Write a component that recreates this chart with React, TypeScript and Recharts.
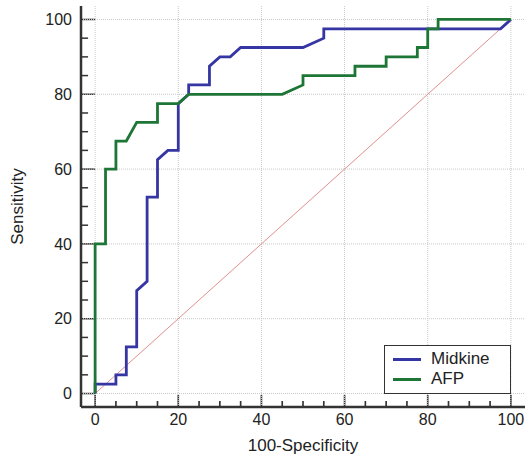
import React from "react";
import {
  LineChart,
  Line,
  XAxis,
  YAxis,
  ReferenceLine,
  ReferenceArea,
  Legend,
} from "recharts";

// ROC points (100-Specificity, Sensitivity)
const midkineX = [0, 0, 5, 5, 7.5, 7.5, 10, 10, 12.5, 12.5, 15, 15, 17.5, 20, 20, 22.5, 22.5, 27.5, 27.5, 30, 32.5, 35, 50, 55, 55, 97.5, 100];
const midkineY = [0, 2.5, 2.5, 5, 5, 12.5, 12.5, 27.5, 30, 52.5, 52.5, 62.5, 65, 65, 77.5, 80, 82.5, 82.5, 87.5, 90, 90, 92.5, 92.5, 95, 97.5, 97.5, 100];

const afpX = [0, 0, 2.5, 2.5, 5, 5, 7.5, 10, 15, 15, 20, 22.5, 45, 50, 50, 62.5, 62.5, 70, 70, 77.5, 77.5, 80, 80, 82.5, 82.5, 100];
const afpY = [0, 40, 40, 60, 60, 67.5, 67.5, 72.5, 72.5, 77.5, 77.5, 80, 80, 82.5, 85, 85, 87.5, 87.5, 90, 90, 92.5, 92.5, 97.5, 97.5, 100, 100];

const majorTicks = [0, 20, 40, 60, 80, 100];
const minorTicks = [5, 10, 15, 25, 30, 35, 45, 50, 55, 65, 70, 75, 85, 90, 95];

const midkineData = midkineX.map((x, i) => ({ x, y: midkineY[i] }));
const afpData = afpX.map((x, i) => ({ x, y: afpY[i] }));

const BLUE = "#3535a3";
const GREEN = "#1e7636";
const AXIS = "#333";
const FONT = "'Liberation Sans', Arial, sans-serif";
const X_DOMAIN = [-3.4, 103.4];
const Y_DOMAIN = [-3.6, 103.6];

// inward tick lengths and half-thickness, in data units
const X_MAJOR = 3.2;
const X_MINOR = 1.6;
const Y_MAJOR = 3.4;
const Y_MINOR = 1.7;
const HALF_X = 0.2;
const HALF_Y = 0.2;

const series = [
  { name: "Midkine", color: BLUE },
  { name: "AFP", color: GREEN },
];

const tickText = { fontSize: 16, fill: "#222", fontFamily: FONT };

function LegendBox() {
  return (
    <div
      style={{
        border: `1.5px solid ${AXIS}`,
        background: "#fff",
        padding: "3px 8px",
        fontFamily: FONT,
        fontSize: 17,
        color: "#222",
        boxSizing: "border-box",
        height: 49,
      }}
    >
      {series.map((s) => (
        <div key={s.name} style={{ display: "flex", alignItems: "center", height: 20 }}>
          <span style={{ display: "inline-block", width: 28, height: 3, background: s.color, marginRight: 10 }} />
          <span>{s.name}</span>
        </div>
      ))}
    </div>
  );
}

export default function App() {
  const allTicks = [...majorTicks, ...minorTicks];
  return (
    <div style={{ position: "absolute", left: 0, top: 0, background: "#fff" }}>
      <LineChart width={525} height={457} margin={{ top: 6, right: 0, bottom: 0, left: 0 }}>
        <XAxis
          type="number"
          dataKey="x"
          domain={X_DOMAIN}
          ticks={majorTicks}
          interval={0}
          tickSize={0}
          tickMargin={7}
          tickLine={false}
          tick={tickText}
          height={50}
          axisLine={{ stroke: AXIS, strokeWidth: 2.5 }}
          allowDataOverflow
          label={{ value: "100-Specificity", position: "insideBottom", offset: 6, fontSize: 17, fill: "#222", fontFamily: FONT }}
        />
        <XAxis
          xAxisId="top"
          orientation="top"
          type="number"
          domain={X_DOMAIN}
          height={0}
          tick={false}
          tickLine={false}
          axisLine={{ stroke: AXIS, strokeWidth: 2.5 }}
        />
        <YAxis
          type="number"
          dataKey="y"
          domain={Y_DOMAIN}
          ticks={majorTicks}
          interval={0}
          tickSize={0}
          tickMargin={9}
          tickLine={false}
          tick={tickText}
          width={81}
          axisLine={{ stroke: AXIS, strokeWidth: 2.5 }}
          allowDataOverflow
          label={{ value: "Sensitivity", angle: -90, position: "insideLeft", offset: 17, fontSize: 17, fill: "#222", fontFamily: FONT, style: { textAnchor: "middle" } }}
        />
        {majorTicks.map((t) => (
          <ReferenceLine key={`gx${t}`} x={t} stroke="#c8c8c8" strokeDasharray="1 1" ifOverflow="visible" />
        ))}
        {majorTicks.map((t) => (
          <ReferenceLine key={`gy${t}`} y={t} stroke="#c8c8c8" strokeDasharray="1 1" ifOverflow="visible" />
        ))}
        {/* inward tick marks, as thin filled areas */}
        {allTicks.map((t) => (
          <ReferenceArea
            key={`ty${t}`}
            ifOverflow="visible"
            x1={X_DOMAIN[0]}
            x2={X_DOMAIN[0] + (majorTicks.includes(t) ? Y_MAJOR : Y_MINOR)}
            y1={t - HALF_Y}
            y2={t + HALF_Y}
            fill={AXIS}
            fillOpacity={1}
            stroke="none"
          />
        ))}
        {allTicks.map((t) => (
          <ReferenceArea
            key={`tx${t}`}
            ifOverflow="visible"
            x1={t - HALF_X}
            x2={t + HALF_X}
            y1={Y_DOMAIN[0]}
            y2={Y_DOMAIN[0] + (majorTicks.includes(t) ? X_MAJOR : X_MINOR)}
            fill={AXIS}
            fillOpacity={1}
            stroke="none"
          />
        ))}
        <ReferenceLine
          segment={[
            { x: 0, y: 0 },
            { x: 100, y: 100 },
          ]}
          stroke="#df8f8f"
          strokeWidth={1}
        />
        <Line
          data={midkineData}
          dataKey="y"
          name="Midkine"
          type="linear"
          stroke={BLUE}
          strokeWidth={2.8}
          dot={false}
          isAnimationActive={false}
        />
        <Line
          data={afpData}
          dataKey="y"
          name="AFP"
          type="linear"
          stroke={GREEN}
          strokeWidth={2.8}
          dot={false}
          isAnimationActive={false}
        />
        <Legend
          layout="vertical"
          align="center"
          verticalAlign="middle"
          content={<LegendBox />}
          wrapperStyle={{ position: "absolute", left: 384, top: 345, width: 127 }}
        />
      </LineChart>
    </div>
  );
}
